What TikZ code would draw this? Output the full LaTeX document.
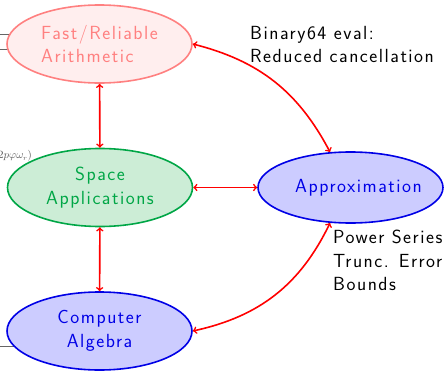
\documentclass[tikz,border=0pt]{standalone}
\usepackage{fontspec}
\setsansfont{Latin Modern Sans}[LetterSpace=8]
\usetikzlibrary{shapes.geometric}
\definecolor{pinkfill}{RGB}{255,238,238}
\definecolor{pinkdraw}{RGB}{255,128,128}
\definecolor{gfill}{RGB}{204,237,214}
\definecolor{gdraw}{RGB}{0,166,70}
\definecolor{bfill}{RGB}{204,204,255}
\definecolor{bdraw}{RGB}{0,0,230}
\begin{document}
\begin{tikzpicture}[x=1pt,y=-1pt,
  every node/.style={font=\sffamily\fontsize{19}{23.5}\selectfont},
  topic/.style={ellipse,line width=1.6pt,minimum width=185pt,minimum height=78pt,inner sep=0pt},
  link/.style={red,line width=1.6pt,<->},
  note/.style={align=left,anchor=north west,inner sep=0pt,black},
  stub/.style={gray!80!black,line width=0.6pt}]
\useasboundingbox (0,0) rectangle (447,372);
\clip (0,0) rectangle (447,372);
% clipped remnants at the left edge
\coordinate (s1) at (0,34);
\coordinate (e1) at (20,34);
\coordinate (s2) at (0,49);
\coordinate (e2) at (20,49);
\coordinate (s3) at (0,346);
\coordinate (e3) at (25,346);
\draw[stub] (s1) -- (e1);
\draw[stub] (s2) -- (e2);
\draw[stub] (s3) -- (e3);
\node[anchor=east,gray!70!black,inner sep=0pt,font=\fontsize{10.5}{11}\selectfont] (frag) at (32,156) {$2p\varphi\omega_r\big)$};
% main nodes
\node[topic,fill=pinkfill,draw=pinkdraw,text=pinkdraw,align=left] (fast) at (99.5,44) {Fast/Reliable\\Arithmetic};
\node[topic,fill=gfill,draw=gdraw,text=gdraw,align=center] (space) at (100,187.5) {Space\\Applications};
\node[topic,fill=bfill,draw=bdraw,text=bdraw,align=center] (comp) at (99.5,331) {Computer\\Algebra};
\node[topic,fill=bfill,draw=bdraw,minimum height=71pt,
  label={[xshift=8pt,text=bdraw]center:Approximation}] (approx) at (350.5,187.5) {};
% connectors
\draw[link] (fast) -- (space);
\draw[link] (space) -- (comp);
\draw[link] (space) -- (approx);
\draw[link] (fast.east) to[bend left=24] (approx.120);
\draw[link] (comp.east) to[bend right=26] (approx.240);
% notes
\node[note] (n1) at (250,26) {Binary64 eval:\\Reduced cancellation};
\node[note] (n2) at (333,230) {Power Series\\Trunc. Error\\Bounds};
\end{tikzpicture}
\end{document}
